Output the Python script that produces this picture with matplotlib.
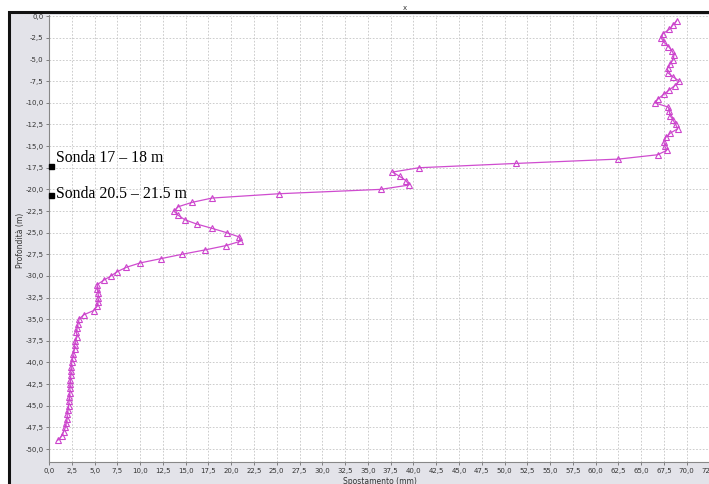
import matplotlib
matplotlib.use("Agg")
import matplotlib.pyplot as plt
from matplotlib.patches import Rectangle
from matplotlib.ticker import MultipleLocator, FuncFormatter

# profondita' (m) e spostamento (mm)
depth = [
    -0.5, -1.0, -1.5, -2.0, -2.5, -3.0, -3.5, -4.0, -4.5, -5.0,
    -5.5, -6.0, -6.5, -7.0, -7.5, -8.0, -8.5, -9.0, -9.5, -10.0,
    -10.5, -11.0, -11.5, -12.0, -12.5, -13.0, -13.5, -14.0, -14.5, -15.0,
    -15.5, -16.0, -16.5, -17.0, -17.5, -18.0, -18.5, -19.0, -19.5, -20.0,
    -20.5, -21.0, -21.5, -22.0, -22.5, -23.0, -23.5, -24.0, -24.5, -25.0,
    -25.5, -26.0, -26.5, -27.0, -27.5, -28.0, -28.5, -29.0, -29.5, -30.0,
    -30.5, -31.0, -31.5, -32.0, -32.5, -33.0, -33.5, -34.0, -34.5, -35.0,
    -35.5, -36.0, -36.5, -37.0, -37.5, -38.0, -38.5, -39.0, -39.5, -40.0,
    -40.5, -41.0, -41.5, -42.0, -42.5, -43.0, -43.5, -44.0, -44.5, -45.0,
    -45.5, -46.0, -46.5, -47.0, -47.5, -48.0, -48.5, -49.0,
]
spost = [
    68.9, 68.5, 68.1, 67.4, 67.2, 67.5, 68.0, 68.4, 68.6, 68.5,
    68.2, 67.9, 67.9, 68.5, 69.2, 68.7, 68.1, 67.5, 66.9, 66.5,
    68.0, 68.1, 68.2, 68.5, 68.8, 69.0, 68.2, 67.7, 67.5, 67.6,
    67.8, 66.8, 62.5, 51.3, 40.6, 37.7, 38.5, 39.2, 39.5, 36.4,
    25.3, 17.9, 15.7, 14.2, 13.7, 14.2, 14.9, 16.2, 17.9, 19.5,
    20.9, 21.0, 19.4, 17.1, 14.6, 12.3, 10.0, 8.5, 7.5, 6.8,
    6.0, 5.3, 5.3, 5.4, 5.4, 5.4, 5.3, 4.9, 3.8, 3.3,
    3.2, 3.1, 3.0, 3.1, 2.9, 2.8, 2.8, 2.65, 2.6, 2.5,
    2.45, 2.4, 2.4, 2.35, 2.3, 2.3, 2.3, 2.25, 2.2, 2.15,
    2.1, 2.0, 2.0, 1.9, 1.8, 1.6, 1.4, 0.95,
]

sonde = ["Sonda 17 \u2013 18 m", "Sonda 20.5 \u2013 21.5 m"]
sonde_y = [-17.33, -20.68]       # quadratini neri
sonde_text_y = [-16.35, -20.55]  # posizione testo

W, H = 709, 484
fig = plt.figure(figsize=(W / 100, H / 100), dpi=100, facecolor="white")

# cornice grigia con bordo nero (screenshot ritagliato)
fig.patches.append(Rectangle((9 / W, -0.1), 1.2, 1.1 - 12 / H,
                             transform=fig.transFigure, facecolor="#e3e3e9",
                             edgecolor="#111111", linewidth=2.2, zorder=-5))

x0, x1 = 0.0, 75.0
y0, y1 = -51.5, 0.15
px_x = 9.11
ax = fig.add_axes([49 / W, (H - 462) / H, (x1 - x0) * px_x / W, 447 / H])
ax.set_zorder(2)
ax.set_facecolor("white")

ax.plot(spost, depth, color="#cf4ccf", lw=0.9, marker="^", ms=4.2,
        mfc="none", mec="#cc44cc", mew=0.8, zorder=3)

ax.set_xlim(x0, x1)
ax.set_ylim(y0, y1)
ax.xaxis.set_major_locator(MultipleLocator(2.5))
ax.yaxis.set_major_locator(MultipleLocator(2.5))
fmt = FuncFormatter(lambda v, p: ("%.1f" % v).replace(".", ","))
ax.xaxis.set_major_formatter(fmt)
ax.yaxis.set_major_formatter(fmt)
ax.tick_params(labelsize=5, colors="#555555", labelcolor="#333333",
               length=2, width=0.5, pad=2)
ax.grid(True, color="#c4c4c4", lw=0.6, ls=(0, (2, 2)))
for s in ["top", "right"]:
    ax.spines[s].set_visible(False)
for s in ["left", "bottom"]:
    ax.spines[s].set_color("#888888")
    ax.spines[s].set_linewidth(0.8)

fig.text(20 / W, 1 - 240 / H, "Profondit\u00e0 (m)", rotation=90,
         fontsize=5.5, color="#333333", ha="center", va="center")
fig.text(380 / W, 1 - 481 / H, "Spostamento (mm)", fontsize=5.5,
         color="#333333", ha="center", va="center")
fig.text(405 / W, 1 - 8 / H, "x", fontsize=5, color="#333333",
         ha="center", va="center")

for lab, yv, yt in zip(sonde, sonde_y, sonde_text_y):
    ax.plot([0.2], [yv], marker="s", ms=3.6, color="black",
            clip_on=False, zorder=5)
    ax.text(0.75, yt, lab, fontsize=11.3, family="Liberation Serif",
            color="black", va="center", ha="left", zorder=5)

fig.savefig("out.png", dpi=100)
